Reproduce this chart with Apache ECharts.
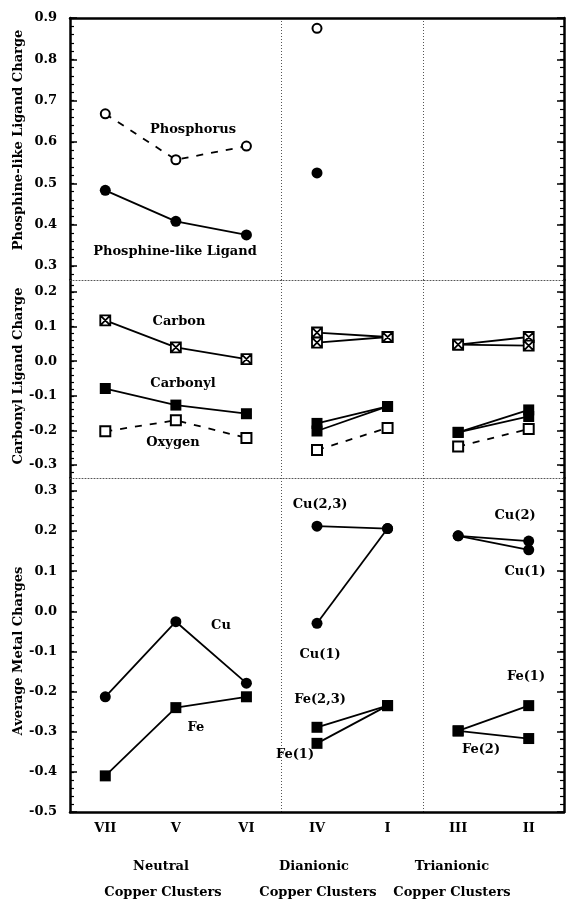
<!DOCTYPE html>
<html><head><meta charset="utf-8">
<script src="https://cdn.jsdelivr.net/npm/echarts@6/dist/echarts.min.js"></script>
<style>html,body{margin:0;padding:0;background:#fff}#c{width:567px;height:901px}</style>
</head><body><div id="c"></div><script>
// ---------- data ----------
const categories = ['VII', 'V', 'VI', 'IV', 'I', 'III', 'II'];
// group start indices: neutral 0, dianionic 3, trianionic 5
const phosphorusNeutral = [0.668, 0.557, 0.590];
const phosphorusDianionic = [0.875];
const ligandNeutral = [0.483, 0.408, 0.375];
const ligandDianionic = [0.525];

const carbonNeutral = [0.118, 0.040, 0.006];
const carbonylNeutral = [-0.079, -0.127, -0.152];
const oxygenNeutral = [-0.203, -0.171, -0.222];
const carbonDianionicA = [0.083, 0.070];
const carbonDianionicB = [0.054, 0.070];
const carbonylDianionicA = [-0.180, -0.131];
const carbonylDianionicB = [-0.202, -0.131];
const oxygenDianionic = [-0.257, -0.193];
const carbonTrianionicA = [0.048, 0.070];
const carbonTrianionicB = [0.048, 0.045];
const carbonylTrianionicA = [-0.206, -0.141];
const carbonylTrianionicB = [-0.206, -0.160];
const oxygenTrianionic = [-0.247, -0.196];

const cuNeutral = [-0.213, -0.026, -0.179];
const feNeutral = [-0.410, -0.240, -0.213];
const cu23Dianionic = [0.212, 0.206];
const cu1Dianionic = [-0.030, 0.206];
const fe23Dianionic = [-0.289, -0.235];
const fe1Dianionic = [-0.329, -0.235];
const cu2Trianionic = [0.188, 0.175];
const cu1Trianionic = [0.188, 0.153];
const fe1Trianionic = [-0.298, -0.235];
const fe2Trianionic = [-0.298, -0.317];

const ticks1 = [0.3, 0.4, 0.5, 0.6, 0.7, 0.8, 0.9];
const ticks2 = [-0.3, -0.2, -0.1, 0.0, 0.1, 0.2];
const ticks3 = [-0.5, -0.4, -0.3, -0.2, -0.1, 0.0, 0.1, 0.2, 0.3];

// ---------- helpers ----------
function seg(start, values) {
  const a = new Array(categories.length).fill(null);
  values.forEach((v, i) => { a[start + i] = v; });
  return a;
}
function minor(lo, hi) {
  const out = [];
  for (let k = Math.ceil(lo * 50 - 1e-9); k <= Math.floor(hi * 50 + 1e-9); k++) out.push(+(k / 50).toFixed(2));
  return out;
}
const FONT = 'DejaVu Serif';
const FILL_CIRCLE = { symbol: 'circle', symbolSize: 11, itemStyle: { color: '#000' } };
const OPEN_CIRCLE = { symbol: 'circle', symbolSize: 9, itemStyle: { color: '#fff', borderColor: '#000', borderWidth: 2 } };
const FILL_SQUARE = { symbol: 'rect', symbolSize: 11, itemStyle: { color: '#000' } };
const OPEN_SQUARE = { symbol: 'rect', symbolSize: 10, itemStyle: { color: '#fff', borderColor: '#000', borderWidth: 2 } };
const CROSS_SQUARE = { symbol: 'path://M0,0L10,0L10,10L0,10Z M0,0L10,10 M10,0L0,10', symbolSize: 10,
  itemStyle: { color: '#fff', borderColor: '#000', borderWidth: 1.8 } };

function line(grid, start, values, marker, dashed) {
  const xIdx = [0, 2, 3][grid];
  return Object.assign({
    type: 'line', xAxisIndex: xIdx, yAxisIndex: grid * 4, data: seg(start, values),
    connectNulls: false, animation: false, z: 3,
    lineStyle: { color: '#000', width: 1.8, type: dashed ? [7, 8] : 'solid' }
  }, JSON.parse(JSON.stringify(marker)));
}

const ranges = [[0.266, 0.9], [-0.338, 0.235], [-0.5, 0.332]];
const majors = [ticks1, ticks2, ticks3];
const grids = [
  { left: 70, right: 3, top: 18, height: 262 },
  { left: 70, right: 3, top: 280, height: 198 },
  { left: 70, right: 3, top: 478, height: 334 }
];
const yAxes = [];
ranges.forEach((r, g) => {
  const common = { type: 'value', gridIndex: g, min: r[0], max: r[1], splitLine: { show: false } };
  yAxes.push(Object.assign({}, common, {
    position: 'left',
    axisLine: { show: true, onZero: false, lineStyle: { color: '#000', width: 2.5 } },
    axisTick: { show: true, inside: true, length: 7, customValues: majors[g], lineStyle: { color: '#000', width: 1.5 } },
    axisLabel: { show: true, customValues: majors[g], formatter: v => v.toFixed(1), margin: 13,
      fontFamily: FONT, fontWeight: 'bold', fontSize: 13, color: '#000' }
  }));
  yAxes.push(Object.assign({}, common, {
    position: 'left', axisLine: { show: false, onZero: false },
    axisTick: { show: true, inside: true, length: 4, customValues: minor(r[0], r[1]), lineStyle: { color: '#000', width: 1.2 } },
    axisLabel: { show: false }
  }));
  yAxes.push(Object.assign({}, common, {
    position: 'right',
    axisLine: { show: true, onZero: false, lineStyle: { color: '#000', width: 2.5 } },
    axisTick: { show: true, inside: true, length: 7, customValues: majors[g], lineStyle: { color: '#000', width: 1.5 } },
    axisLabel: { show: false }
  }));
  yAxes.push(Object.assign({}, common, {
    position: 'right', axisLine: { show: false, onZero: false },
    axisTick: { show: true, inside: true, length: 4, customValues: minor(r[0], r[1]), lineStyle: { color: '#000', width: 1.2 } },
    axisLabel: { show: false }
  }));
});

const sep = { show: true, interval: (i) => i === 3 || i === 5, lineStyle: { color: '#555', width: 1, type: [1, 2] } };
const xAxes = [
  { type: 'category', gridIndex: 0, data: categories, position: 'bottom', boundaryGap: true,
    axisLine: { show: true, onZero: false, lineStyle: { color: '#555', width: 1, type: [1, 2] } }, axisTick: { show: false }, axisLabel: { show: false }, splitLine: sep },
  { type: 'category', gridIndex: 0, data: categories, position: 'top', boundaryGap: true,
    axisLine: { show: true, onZero: false, lineStyle: { color: '#000', width: 2.5 } }, axisTick: { show: false }, axisLabel: { show: false }, splitLine: { show: false } },
  { type: 'category', gridIndex: 1, data: categories, position: 'bottom', boundaryGap: true,
    axisLine: { show: true, onZero: false, lineStyle: { color: '#555', width: 1, type: [1, 2] } }, axisTick: { show: false }, axisLabel: { show: false }, splitLine: sep },
  { type: 'category', gridIndex: 2, data: categories, position: 'bottom', boundaryGap: true,
    axisLine: { show: true, onZero: false, lineStyle: { color: '#000', width: 2.5 } }, axisTick: { show: false },
    axisLabel: { show: true, margin: 10, fontFamily: FONT, fontWeight: 'bold', fontSize: 13, color: '#000' }, splitLine: sep }
];

const series = [
  line(0, 0, phosphorusNeutral, OPEN_CIRCLE, true),
  line(0, 3, phosphorusDianionic, OPEN_CIRCLE, false),
  line(0, 0, ligandNeutral, FILL_CIRCLE, false),
  line(0, 3, ligandDianionic, FILL_CIRCLE, false),

  line(1, 0, carbonNeutral, CROSS_SQUARE, false),
  line(1, 0, carbonylNeutral, FILL_SQUARE, false),
  line(1, 0, oxygenNeutral, OPEN_SQUARE, true),
  line(1, 3, carbonDianionicA, CROSS_SQUARE, false),
  line(1, 3, carbonDianionicB, CROSS_SQUARE, false),
  line(1, 3, carbonylDianionicA, FILL_SQUARE, false),
  line(1, 3, carbonylDianionicB, FILL_SQUARE, false),
  line(1, 3, oxygenDianionic, OPEN_SQUARE, true),
  line(1, 5, carbonTrianionicA, CROSS_SQUARE, false),
  line(1, 5, carbonTrianionicB, CROSS_SQUARE, false),
  line(1, 5, carbonylTrianionicA, FILL_SQUARE, false),
  line(1, 5, carbonylTrianionicB, FILL_SQUARE, false),
  line(1, 5, oxygenTrianionic, OPEN_SQUARE, true),

  line(2, 0, cuNeutral, FILL_CIRCLE, false),
  line(2, 0, feNeutral, FILL_SQUARE, false),
  line(2, 3, cu23Dianionic, FILL_CIRCLE, false),
  line(2, 3, cu1Dianionic, FILL_CIRCLE, false),
  line(2, 3, fe23Dianionic, FILL_SQUARE, false),
  line(2, 3, fe1Dianionic, FILL_SQUARE, false),
  line(2, 5, cu2Trianionic, FILL_CIRCLE, false),
  line(2, 5, cu1Trianionic, FILL_CIRCLE, false),
  line(2, 5, fe1Trianionic, FILL_SQUARE, false),
  line(2, 5, fe2Trianionic, FILL_SQUARE, false)
];

function txt(text, x, y, rot) {
  return { type: 'text', x: x, y: y, rotation: rot || 0, z: 10,
    style: { text: text, fill: '#000', font: 'bold 13px "DejaVu Serif"', align: 'center', verticalAlign: 'middle' } };
}
const graphics = [
  txt('Phosphine-like Ligand Charge', 19, 140, Math.PI / 2),
  txt('Carbonyl Ligand Charge', 19, 376, Math.PI / 2),
  txt('Average Metal Charges', 19, 651, Math.PI / 2),
  txt('Phosphorus', 193, 130), txt('Phosphine-like Ligand', 175, 252),
  txt('Carbon', 179, 322), txt('Carbonyl', 183, 384), txt('Oxygen', 173, 443),
  txt('Cu', 221, 626), txt('Fe', 196, 728),
  txt('Cu(2,3)', 320, 505), txt('Cu(1)', 320, 655),
  txt('Fe(2,3)', 320, 700), txt('Fe(1)', 295, 755),
  txt('Cu(2)', 515, 516), txt('Cu(1)', 525, 572),
  txt('Fe(1)', 526, 677), txt('Fe(2)', 481, 750),
  txt('Neutral', 161, 867), txt('Copper Clusters', 163, 893),
  txt('Dianionic', 314, 867), txt('Copper Clusters', 318, 893),
  txt('Trianionic', 452, 867), txt('Copper Clusters', 452, 893)
];

const chart = echarts.init(document.getElementById('c'), null, { renderer: 'canvas' });
chart.setOption({
  backgroundColor: '#fff', animation: false,
  grid: grids, xAxis: xAxes, yAxis: yAxes, series: series, graphic: graphics
});
</script></body></html>
